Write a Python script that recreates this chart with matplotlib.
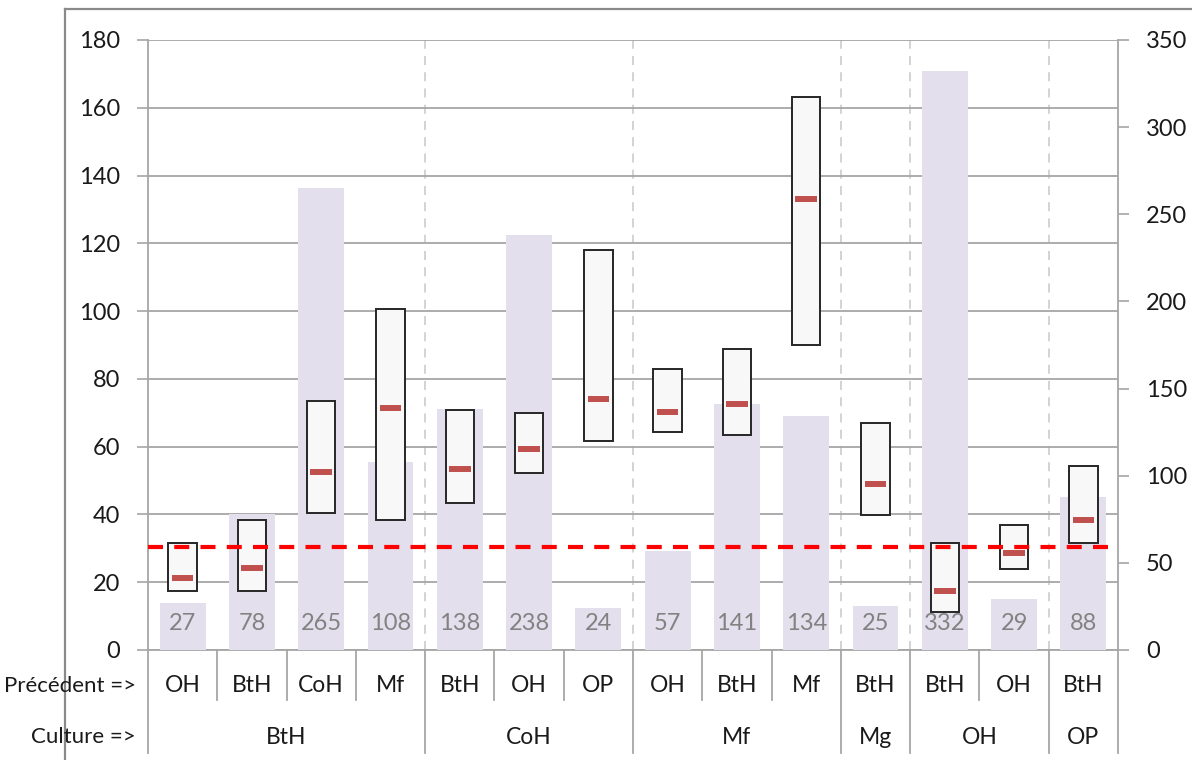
import matplotlib
matplotlib.use("Agg")
import matplotlib.pyplot as plt
from matplotlib.lines import Line2D
from matplotlib.transforms import blended_transform_factory

plt.rcParams['font.family'] = ['Lato', 'DejaVu Sans']

# Crop (culture) and preceding crop for each category
culture = ['BtH', 'BtH', 'BtH', 'BtH', 'CoH', 'CoH', 'CoH',
           'Mf', 'Mf', 'Mf', 'Mg', 'OH', 'OH', 'OP']
precedent = ['OH', 'BtH', 'CoH', 'Mf', 'BtH', 'OH', 'OP',
             'OH', 'BtH', 'Mf', 'BtH', 'BtH', 'OH', 'BtH']

# Number of observations (right axis)
counts = [27, 78, 265, 108, 138, 238, 24, 57, 141, 134, 25, 332, 29, 88]

# Range and mean (left axis)
low = [17.3, 17.4, 40.4, 38.5, 43.3, 52.1, 61.7, 64.3, 63.5, 90.0, 39.7, 11.3, 24.0, 31.6]
high = [31.5, 38.5, 73.4, 100.5, 70.7, 69.9, 118.1, 82.8, 88.9, 163.2, 66.9, 31.7, 37.0, 54.4]
mean = [21.2, 24.1, 52.5, 71.4, 53.3, 59.3, 74.1, 70.3, 72.6, 133.1, 49.1, 17.3, 28.7, 38.5]

threshold = 30.4

left_ticks = list(range(0, 181, 20))
right_ticks = list(range(0, 351, 50))

W, H = 1192, 760
fig = plt.figure(figsize=(W / 100, H / 100), dpi=100)
pos = [148 / W, 1 - 650 / H, (1118 - 148) / W, (650 - 40) / H]

grid_c = '#A6A6A6'
text_c = '#1A1A1A'
fs = 16.5
fs_num = 17
n = len(counts)
xs = list(range(n))

# Bottom layer: gridlines, left scale
ax_g = fig.add_axes(pos)
ax_g.set_xlim(-0.5, n - 0.5)
ax_g.set_ylim(0, 180)
ax_g.set_yticks(left_ticks)
ax_g.set_xticks([])
ax_g.yaxis.grid(True, color=grid_c, lw=1.3)
ax_g.set_axisbelow(True)
ax_g.tick_params(axis='y', length=8, width=1.2, color=grid_c, pad=12,
                 labelsize=fs_num, labelcolor=text_c)
for s in ['top', 'right']:
    ax_g.spines[s].set_visible(False)
for s in ['left', 'bottom']:
    ax_g.spines[s].set_color(grid_c)
    ax_g.spines[s].set_linewidth(1.3)

# Group boundaries
bounds = [i + 0.5 for i in range(n - 1) if culture[i] != culture[i + 1]]
for b in bounds:
    ax_g.axvline(b, color='#D0D0D0', lw=1.3, ls=(0, (5, 4)), zorder=0.5)

# Middle layer: counts, right scale
ax_b = fig.add_axes(pos, sharex=ax_g)
ax_b.patch.set_visible(False)
ax_b.set_ylim(0, 350)
ax_b.yaxis.tick_right()
ax_b.set_yticks(right_ticks)
ax_b.tick_params(axis='y', length=8, width=1.2, color=grid_c, pad=12,
                 labelsize=fs_num, labelcolor=text_c)
ax_b.tick_params(axis='x', bottom=False, labelbottom=False)
for s in ['top', 'left', 'bottom']:
    ax_b.spines[s].set_visible(False)
ax_b.spines['right'].set_color(grid_c)
ax_b.spines['right'].set_linewidth(1.3)
ax_b.bar(xs, counts, width=0.66, color='#E4DFEC', zorder=1)
for x, c in zip(xs, counts):
    ax_b.annotate(str(c), (x, 0), xytext=(0, 19), textcoords='offset points',
                  ha='center', va='center', fontsize=fs_num, color='#828282')

# Top layer: ranges, means, threshold
ax_m = fig.add_axes(pos, sharex=ax_g)
ax_m.patch.set_visible(False)
ax_m.set_ylim(0, 180)
ax_m.axis('off')
spans = [h - l for h, l in zip(high, low)]
ax_m.bar(xs, spans, bottom=low, width=0.41, color='#F8F8F8',
         edgecolor='#262626', linewidth=1.4, zorder=2)
ax_m.hlines(mean, [x - 0.155 for x in xs], [x + 0.155 for x in xs],
            color='#C0504D', lw=4.3, zorder=3)
ax_m.axhline(threshold, color='#FF0000', lw=3.0, ls=(0, (3.6, 2.7)), zorder=4)

# Two-level category labels below the axis
tr = blended_transform_factory(ax_g.transData, ax_g.transAxes)
ah = (650 - 40)
short = -50 / ah
long_ = -103 / ah
edges = [-0.5] + [i + 0.5 for i in range(n - 1)] + [n - 0.5]
for e in edges:
    ylow = long_ if (e in bounds or e in (-0.5, n - 0.5)) else short
    ax_g.add_line(Line2D([e, e], [0, ylow], transform=tr, color=grid_c,
                         lw=1.3, clip_on=False))
for x, p in zip(xs, precedent):
    ax_g.text(x, -36 / ah, p, transform=tr, ha='center', va='center',
              fontsize=fs, color=text_c)
groups = []
for i, c in enumerate(culture):
    if not groups or groups[-1][0] != c:
        groups.append([c, i, i])
    else:
        groups[-1][2] = i
for c, a, b in groups:
    ax_g.text((a + b) / 2, -87 / ah, c, transform=tr, ha='center', va='center',
              fontsize=fs, color=text_c)

fig.text(136 / W, 1 - 686 / H, 'Précédent =>', ha='right', va='center',
         fontsize=16, color=text_c)
fig.text(136 / W, 1 - 737 / H, 'Culture =>', ha='right', va='center',
         fontsize=16, color=text_c)

# Chart frame
fig.add_artist(Line2D([65 / W, 65 / W], [0, 1 - 9 / H], color='#8A8A8A',
                      lw=1.6, transform=fig.transFigure, zorder=0))
fig.add_artist(Line2D([65 / W, 1], [1 - 9 / H, 1 - 9 / H], color='#8A8A8A',
                      lw=1.6, transform=fig.transFigure, zorder=0))

fig.savefig('out.png', dpi=100)
